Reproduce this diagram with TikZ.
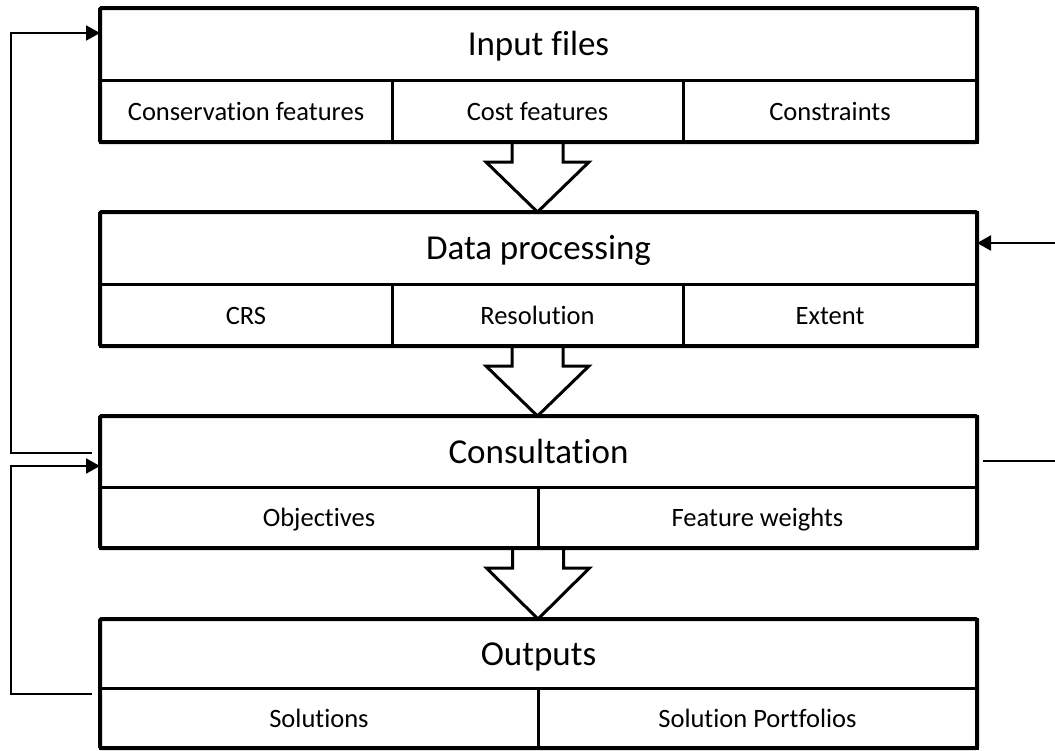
\documentclass[tikz,border=0pt]{standalone}
\usepackage{fontspec}
\setmainfont{Carlito}[Ligatures=NoCommon]
\usetikzlibrary{arrows.meta,calc}
\tikzset{
  hdr/.style={draw, line width=3pt, minimum width=877pt, inner sep=0pt, outer sep=0pt, anchor=north west, text height=26pt, text depth=3pt, font=\fontsize{35}{40}\selectfont},
  subbox/.style={draw, line width=3pt, inner sep=0pt, outer sep=0pt, anchor=north west, text height=20pt, text depth=2pt, font=\fontsize{26.5}{30}\selectfont},
  outerbox/.style={draw, line width=4pt, rounded corners=1.5pt},
  blockarrow/.style={draw, line width=3pt, line join=miter},
  conn/.style={draw, line width=2pt},
  connarrow/.style={conn, -{Triangle[length=14pt,width=15pt]}}
}
\begin{document}
\begin{tikzpicture}[x=1pt,y=-1pt]
\useasboundingbox (0,0) rectangle (1055,750);
% Box 1
\node[hdr, minimum height=72pt] (in) at (100,8) {Input files};
\node[subbox, minimum width=292pt, minimum height=62pt] (in1) at (100,80) {Conservation features};
\node[subbox, minimum width=291pt, minimum height=62pt] (in2) at (392,80) {Cost features};
\node[subbox, minimum width=294pt, minimum height=62pt] (in3) at (683,80) {Constraints};
\draw[outerbox] (in.north west) rectangle (in3.south east);
% Box 2
\node[hdr, minimum height=72pt] (dp) at (100,212) {Data processing};
\node[subbox, minimum width=292pt, minimum height=62pt] (dp1) at (100,284) {CRS};
\node[subbox, minimum width=291pt, minimum height=62pt] (dp2) at (392,284) {Resolution};
\node[subbox, minimum width=294pt, minimum height=62pt] (dp3) at (683,284) {Extent};
\draw[outerbox] (dp.north west) rectangle (dp3.south east);
% Box 3
\node[hdr, minimum height=71pt] (con) at (100,416) {Consultation};
\node[subbox, minimum width=438pt, minimum height=61pt] (con1) at (100,487) {Objectives};
\node[subbox, minimum width=439pt, minimum height=61pt] (con2) at (538,487) {Feature weights};
\draw[outerbox] (con.north west) rectangle (con2.south east);
% Box 4
\node[hdr, minimum height=69pt] (out) at (100,619) {Outputs};
\node[subbox, minimum width=438pt, minimum height=60pt] (out1) at (100,688) {Solutions};
\node[subbox, minimum width=439pt, minimum height=60pt] (out2) at (538,688) {Solution Portfolios};
\draw[outerbox] (out.north west) rectangle (out2.south east);
% Block arrows
\draw[blockarrow] ($(in2.south)+(-25.5,0)$) -- ++(0,20) -- ++(-26,0) -- (dp.north -| in2.south) -- ($(in2.south)+(51.5,20)$) -- ++(-26,0) -- ++(0,-20);
\draw[blockarrow] ($(dp2.south)+(-25.5,0)$) -- ++(0,20) -- ++(-26,0) -- (con.north -| dp2.south) -- ($(dp2.south)+(51.5,20)$) -- ++(-26,0) -- ++(0,-20);
\draw[blockarrow] ($(con1.south east)+(-25.5,0)$) -- ++(0,20) -- ++(-26,0) -- (out.north -| con1.south east) -- ($(con1.south east)+(51.5,20)$) -- ++(-26,0) -- ++(0,-20);
% Left feedback connectors
\coordinate (aS) at (92,453);
\coordinate (aC) at (11,33);
\draw[connarrow] (aS) -| (aC) -- (in.west |- aC);
\coordinate (bS) at (92,694);
\coordinate (bC) at (11,466);
\draw[connarrow] (bS) -| (bC) -- (con.west |- bC);
% Right connectors
\coordinate (rA) at (1055,243);
\draw[connarrow] (rA) -- (dp.east |- rA);
\coordinate (rB1) at (983,461);
\coordinate (rB2) at (1055,461);
\draw[conn] (rB1) -- (rB2);
\end{tikzpicture}
\end{document}
